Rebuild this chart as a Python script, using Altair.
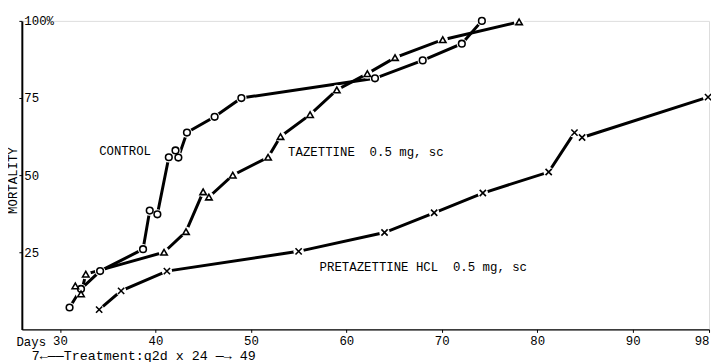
import altair as alt
import pandas as pd

FONT = "Liberation Mono"
NB = "\u00a0"

# Control (circles)
control_day = [31.0, 32.2, 34.2, 38.7, 39.4, 40.2, 41.4, 42.1, 42.4, 43.3, 46.2, 49.0, 63.0, 68.0, 72.1, 74.2]
control_mort = [7.1, 13.1, 18.9, 26.0, 38.5, 37.3, 55.8, 58.0, 55.7, 63.8, 68.9, 75.0, 81.4, 87.2, 92.6, 100.0]

# Tazettine 0.5 mg, sc (triangles)
taz_day = [31.6, 32.2, 32.7, 40.9, 43.2, 45.0, 45.6, 48.1, 51.8, 53.1, 56.2, 59.0, 62.2, 65.1, 70.1, 78.1]
taz_mort = [14.1, 11.5, 17.9, 25.0, 31.7, 44.6, 42.9, 50.0, 55.8, 62.5, 69.6, 77.6, 82.9, 88.1, 93.9, 99.7]

# Pretazettine HCl 0.5 mg, sc (crosses)
pre_day = [34.1, 36.4, 41.2, 55.0, 64.0, 69.2, 74.3, 81.2, 83.9, 84.7, 97.9]
pre_mort = [6.4, 12.5, 18.9, 25.3, 31.4, 37.8, 44.2, 51.0, 63.8, 62.2, 75.3]

series_names = ["Control", "Tazettine", "Pretazettine"]

label_text = ["CONTROL", "TAZETTINE" + NB + NB + "0.5 mg, sc", "PRETAZETTINE HCL" + NB + NB + "0.5 mg, sc"]
label_day = [34.1, 53.9, 57.2]
label_mort = [57.7, 57.5, 20.1]

x_ticks = [30, 40, 50, 60, 70, 80, 90, 98]
y_ticks = [25, 50, 75, 100]

rows = []
for name, ds, ms in zip(series_names, [control_day, taz_day, pre_day], [control_mort, taz_mort, pre_mort]):
    for d, m in zip(ds, ms):
        rows.append({"series": name, "day": d, "mort": m})
df = pd.DataFrame(rows)
labels = pd.DataFrame({"text": label_text, "day": label_day, "mort": label_mort})

xscale = alt.Scale(domain=[26, 98], nice=False, zero=False)
yscale = alt.Scale(domain=[0, 100], nice=False, zero=False)

x_axis = alt.Axis(
    values=x_ticks, title="Days", titleX=-6, titleY=12, titleAlign="left",
    titleBaseline="middle", titleFont=FONT, titleFontSize=12.5, titleFontWeight="normal",
    titleColor="black", labelFont=FONT, labelFontSize=12.5, labelColor="black",
    labelPadding=2, tickSize=3, tickColor="black", domainColor="black", domainWidth=1.5,
    grid=False, labelFlush=True, labelOverlap=False,
)
y_axis = alt.Axis(
    values=y_ticks, title="MORTALITY", titleAngle=270, titleX=-9.5, titleY=161,
    titleAlign="center", titleBaseline="middle", titleFont=FONT, titleFontSize=12.5,
    titleFontWeight="normal", titleColor="black",
    labelExpr="datum.value == 100 ? '100%' : '" + NB + "' + datum.label",
    labelAlign="left", labelBaseline="middle", labelPadding=-5, labelFont=FONT,
    labelFontSize=12.5, labelColor="black", tickSize=3, tickColor="black",
    domainColor="black", domainWidth=2, grid=False,
)

X = alt.X("day:Q", scale=xscale, axis=x_axis)
Y = alt.Y("mort:Q", scale=yscale, axis=y_axis)

base = alt.Chart(df)

lines = base.mark_line(color="black", strokeWidth=3, strokeCap="butt").encode(
    x=X, y=Y, detail="series:N"
)
halo = base.mark_point(shape="circle", filled=True, color="white", opacity=1, size=110).encode(
    x="day:Q", y="mort:Q"
)
markers = base.mark_point(fill="white", stroke="black", strokeWidth=1.6, opacity=1, fillOpacity=1).encode(
    x="day:Q", y="mort:Q",
    shape=alt.Shape("series:N", scale=alt.Scale(domain=series_names,
                    range=["circle", "triangle-up", "M-1,-1L1,1M-1,1L1,-1"]), legend=None),
    size=alt.Size("series:N", scale=alt.Scale(domain=series_names, range=[45, 40, 28]), legend=None),
)
texts = alt.Chart(labels).mark_text(align="left", baseline="middle", font=FONT, fontSize=12.5, color="black").encode(
    x="day:Q", y="mort:Q", text="text:N"
)

chart = (lines + halo + markers + texts).properties(
    width=695, height=312,
    autosize=alt.AutoSizeParams(type="none"),
    padding={"left": 14, "top": 11, "right": 2, "bottom": 36},
    title=alt.TitleParams(
        "7\u2190\u2014\u2014Treatment:q2d x 24 \u2014\u2192 49", orient="bottom", anchor="start",
        frame="group", dx=10, offset=1, font=FONT, fontSize=13.5, fontWeight="normal", color="black",
    ),
).configure_view(stroke=None).configure(background="white")

chart.save("out.html", embed_options={"renderer": "svg", "actions": False})
